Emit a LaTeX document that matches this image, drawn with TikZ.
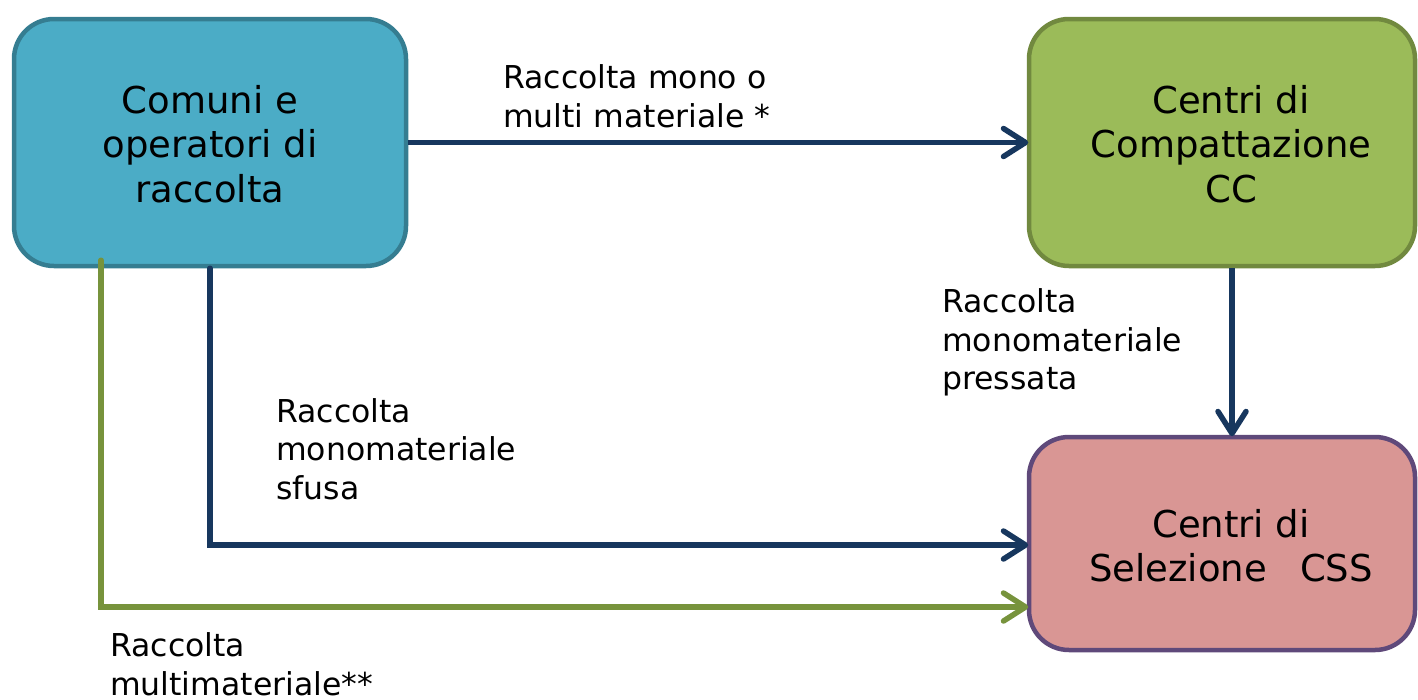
\documentclass[tikz,border=0pt]{standalone}
\usepackage{fontspec}
\setmainfont{DejaVu Sans}
\usetikzlibrary{arrows.meta}
\definecolor{bfill}{HTML}{4BACC6}
\definecolor{bline}{HTML}{357D91}
\definecolor{gfill}{HTML}{9BBB59}
\definecolor{gline}{HTML}{71893F}
\definecolor{pfill}{HTML}{D99694}
\definecolor{pline}{HTML}{5F497A}
\definecolor{darrow}{HTML}{17375E}
\definecolor{garrow}{HTML}{77933C}
\begin{document}
\begin{tikzpicture}[x=1pt,y=-1pt,
  box/.style={rounded corners=40pt, line width=4.5pt, inner sep=0pt},
  boxtext/.style={align=center, inner sep=0pt, font=\fontsize{37}{44.5}\selectfont},
  lab/.style={align=left, inner sep=0pt, anchor=west, font=\fontsize{31.5}{38.7}\selectfont},
  conn/.style={line width=5.5pt, -{Straight Barb[length=22pt,width=28pt,round]}, shorten >=-1.5pt},
]
\useasboundingbox (0,0) rectangle (1418,699);
\node[box, fill=bfill, draw=bline, minimum width=392pt, minimum height=247pt] (b1) at (210,142.5) {};
\node[box, fill=gfill, draw=gline, minimum width=386pt, minimum height=247pt] (b2) at (1222,142.5) {};
\node[box, fill=pfill, draw=pline, minimum width=386pt, minimum height=213pt] (b3) at (1222,543.5) {};
\node[boxtext] (t1) at (210,144) {Comuni e\\operatori di\\raccolta};
\node[boxtext] (t2) at (1231,144) {Centri di\\Compattazione\\CC};
\node[boxtext] (t3) at (1231,545.5) {Centri di\\Selezione\hspace{0.9em}CSS};
\draw[conn, darrow] (b1.east) -- (b2.west);
\draw[conn, darrow] ([xshift=10pt]b2.south) -- ([xshift=10pt]b3.north);
\draw[conn, darrow, line cap=round] (b1.south) |- ([yshift=-1.5pt]b3.west);
\draw[conn, garrow, line cap=round] ([xshift=-109pt,yshift=8pt]b1.south) |- ([yshift=-63.5pt]b3.west);
\node[lab] (l1) at (503,96.5) {Raccolta mono o\\multi materiale *};
\node[lab] (l2) at (942,342.5) {Raccolta\\monomateriale\\pressata};
\node[lab] (l3) at (276,449) {Raccolta\\monomateriale\\sfusa};
\node[lab] (l4) at (110,664) {Raccolta\\multimateriale**};
\end{tikzpicture}
\end{document}
